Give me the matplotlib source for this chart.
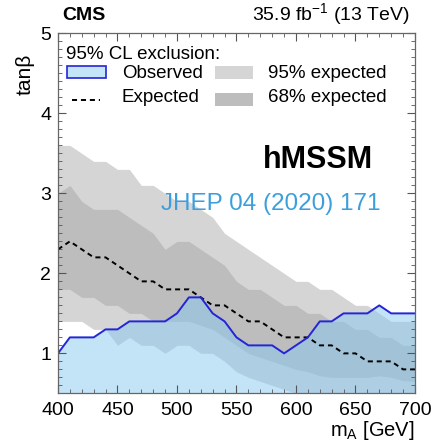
import matplotlib
matplotlib.use("Agg")
import matplotlib.pyplot as plt
from matplotlib.patches import Rectangle
from matplotlib.lines import Line2D
from matplotlib.ticker import MultipleLocator

plt.rcParams["font.family"] = ["Liberation Sans", "DejaVu Sans"]
plt.rcParams["mathtext.fontset"] = "custom"
plt.rcParams["mathtext.rm"] = "Liberation Sans"
plt.rcParams["mathtext.it"] = "Liberation Sans:italic"
plt.rcParams["mathtext.bf"] = "Liberation Sans:bold"

# Mass points (GeV)
m_A = [400, 410, 420, 430, 440, 450, 460, 470, 480, 490, 500,
       510, 520, 530, 540, 550, 560, 570, 580, 590, 600,
       610, 620, 630, 640, 650, 660, 670, 680, 690, 700]

# Observed 95% CL limit on tan(beta)
observed = [1.0, 1.2, 1.2, 1.2, 1.3, 1.3, 1.4, 1.4, 1.4, 1.4, 1.5,
            1.7, 1.7, 1.5, 1.4, 1.2, 1.1, 1.1, 1.1, 1.0, 1.1,
            1.2, 1.4, 1.4, 1.5, 1.5, 1.5, 1.6, 1.5, 1.5, 1.5]

# Median expected limit
expected = [2.3, 2.4, 2.3, 2.2, 2.2, 2.1, 2.0, 1.9, 1.9, 1.8, 1.8,
            1.8, 1.7, 1.6, 1.6, 1.5, 1.4, 1.4, 1.3, 1.2, 1.2,
            1.2, 1.1, 1.1, 1.0, 1.0, 0.9, 0.9, 0.9, 0.8, 0.8]

# 68% expected band
exp68_up = [3.0, 3.1, 2.9, 2.8, 2.8, 2.8, 2.7, 2.6, 2.5, 2.3, 2.4,
            2.4, 2.3, 2.2, 2.1, 1.9, 1.8, 1.8, 1.7, 1.6, 1.6,
            1.5, 1.5, 1.4, 1.4, 1.3, 1.3, 1.2, 1.2, 1.1, 1.1]
exp68_dn = [1.8, 1.8, 1.7, 1.7, 1.6, 1.6, 1.5, 1.5, 1.4, 1.4, 1.4,
            1.4, 1.35, 1.3, 1.2, 1.1, 1.0, 0.95, 0.9, 0.85, 0.8,
            0.77, 0.72, 0.7, 0.7, 0.7, 0.7, 0.72, 0.7, 0.66, 0.65]

# 95% expected band
exp95_up = [3.6, 3.6, 3.5, 3.4, 3.4, 3.3, 3.3, 3.1, 3.1, 3.0, 2.9,
            2.9, 2.8, 2.7, 2.5, 2.4, 2.3, 2.2, 2.1, 2.0, 1.9,
            1.9, 1.8, 1.8, 1.7, 1.6, 1.6, 1.5, 1.4, 1.4, 1.4]
exp95_dn = [1.4, 1.4, 1.4, 1.3, 1.3, 1.1, 1.2, 1.1, 1.1, 1.0, 1.1,
            1.1, 1.0, 1.0, 0.9, 0.77, 0.7, 0.65, 0.6, 0.55, 0.5,
            0.45, 0.45, 0.45, 0.45, 0.45, 0.45, 0.45, 0.45, 0.45, 0.45]

x_ticks = [400, 450, 500, 550, 600, 650, 700]
y_ticks = [1, 2, 3, 4, 5]

c95 = "#d5d5d5"
c68 = "#bdbdbd"
c_obs_fill = "#89c9f1"
c_obs_legend = "#c4e4f8"
c_obs_line = "#2424d8"
c_ref = "#3c9fdc"
dash = (0, (2.6, 2.0))

fig = plt.figure(figsize=(4.34, 4.45), dpi=100)
ax = fig.add_axes([0.1336, 0.116, 0.8226, 0.809])

ax.fill_between(m_A, exp95_dn, exp95_up, color=c95, lw=0)
ax.fill_between(m_A, exp68_dn, exp68_up, color=c68, lw=0)
ax.fill_between(m_A, 0.0, observed, color=c_obs_fill, alpha=0.5, lw=0)
ax.plot(m_A, expected, color="black", ls=dash, lw=1.4)
ax.plot(m_A, observed, color=c_obs_line, lw=1.4)

ax.set_xlim(400, 700)
ax.set_ylim(0.5, 5)
ax.set_xticks(x_ticks)
ax.set_yticks(y_ticks)
ax.xaxis.set_minor_locator(MultipleLocator(10))
ax.yaxis.set_minor_locator(MultipleLocator(0.1))
ax.tick_params(which="both", direction="in", top=True, right=True,
               color="#555555", labelsize=14)
ax.tick_params(which="major", length=6, width=0.8, pad=5)
ax.tick_params(axis="x", which="major", pad=6)
ax.tick_params(which="minor", length=3, width=0.6)
for s in ax.spines.values():
    s.set_color("#666666")
    s.set_linewidth(0.9)

ax.set_xlabel(r"m$_{\rm A}$ [GeV]", fontsize=14.5, loc="right")
ax.xaxis.set_label_coords(1.0, -0.072)
ax.set_ylabel("tan\u03b2", fontsize=15, loc="top")
ax.yaxis.set_label_coords(-0.066, 0.945)

fig.text(0.143, 0.955, "CMS", fontsize=14, fontweight="bold", ha="left",
         va="baseline")
fig.text(0.945, 0.955, r"35.9 fb$^{-1}$ (13 TeV)", fontsize=14, ha="right",
         va="baseline")

ax.text(0.728, 0.626, "hMSSM", transform=ax.transAxes, fontsize=22,
        fontweight="bold", ha="center", va="baseline")
ax.text(0.596, 0.509, "JHEP 04 (2020) 171", transform=ax.transAxes,
        fontsize=17.5, color=c_ref, ha="center", va="baseline")

# Legend block, laid out in axes-fraction coordinates
ta = ax.transAxes
leg_fs = 13.5
ax.text(0.022, 0.93, "95% CL exclusion:", transform=ta, fontsize=leg_fs,
        ha="left", va="baseline")
ax.add_patch(Rectangle((0.024, 0.876), 0.11, 0.034, transform=ta,
                       facecolor=c_obs_legend, edgecolor=c_obs_line, lw=1.2))
ax.text(0.179, 0.876, "Observed", transform=ta, fontsize=leg_fs,
        ha="left", va="baseline")
ax.add_line(Line2D([0.04, 0.118], [0.816, 0.816], transform=ta,
                   color="black", ls=dash, lw=1.4))
ax.text(0.179, 0.809, "Expected", transform=ta, fontsize=leg_fs,
        ha="left", va="baseline")
ax.add_patch(Rectangle((0.44, 0.874), 0.106, 0.036, transform=ta,
                       facecolor=c95, edgecolor="none"))
ax.text(0.588, 0.876, "95% expected", transform=ta, fontsize=leg_fs,
        ha="left", va="baseline")
ax.add_patch(Rectangle((0.44, 0.799), 0.106, 0.036, transform=ta,
                       facecolor=c68, edgecolor="none"))
ax.text(0.588, 0.809, "68% expected", transform=ta, fontsize=leg_fs,
        ha="left", va="baseline")

fig.savefig("out.png", dpi=100)
